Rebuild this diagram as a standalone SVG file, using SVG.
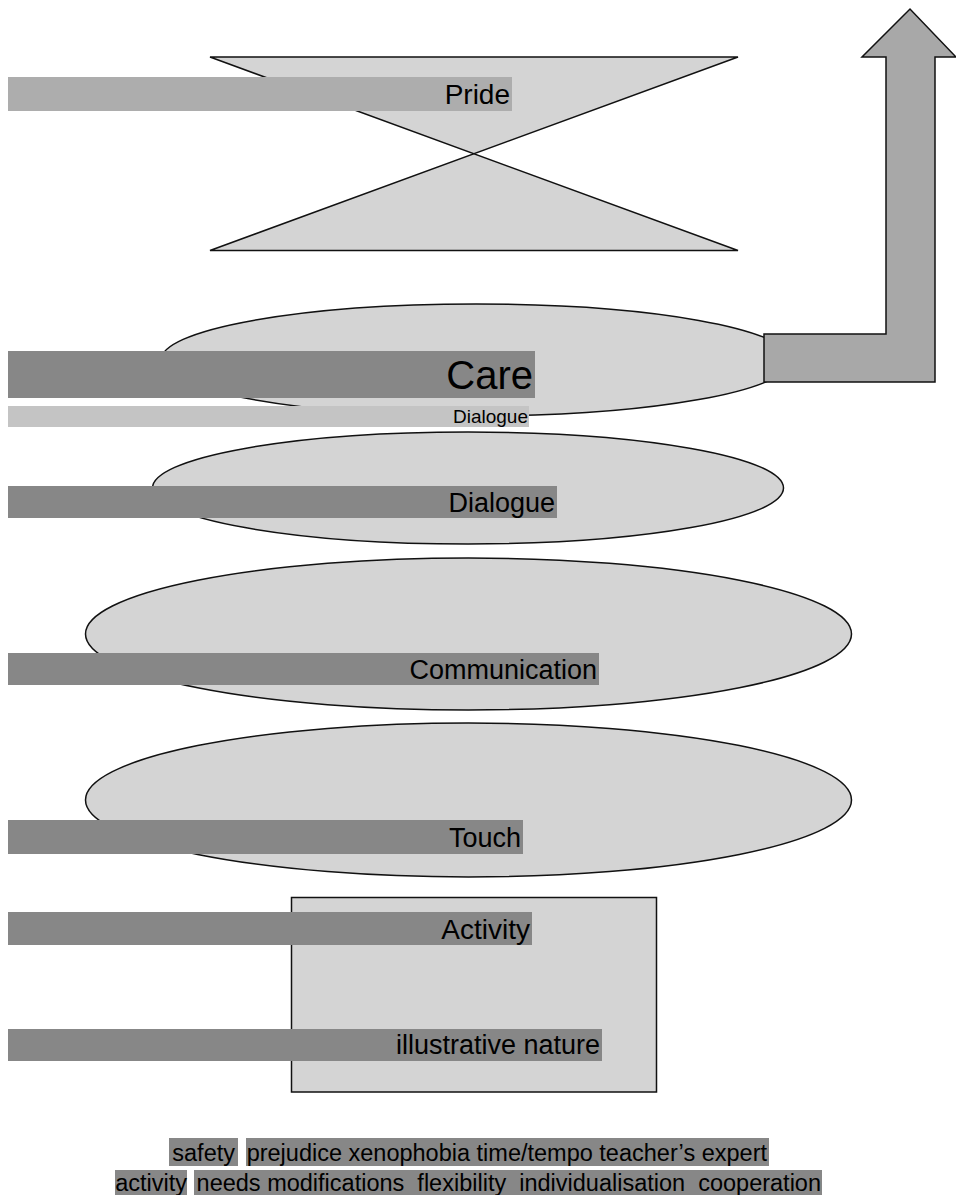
<svg xmlns="http://www.w3.org/2000/svg" width="956" height="1195" viewBox="0 0 956 1195">
<style>
.shape{fill:#d4d4d4;stroke:#111;stroke-width:1.5}
.bar{fill:#878787}
.lbl{font-family:"Liberation Sans",Arial,sans-serif;fill:#000;text-anchor:end}
</style>
<rect width="956" height="1195" fill="#fff"/>
<g id="pride">
<polygon class="shape" points="210,57 738,57 210,250.5 738,250.5"/>
<rect x="8" y="77" width="504" height="34" fill="#adadad"/>
<text class="lbl" x="510" y="104" font-size="28">Pride</text>
</g>
<g id="connectors">
<ellipse class="shape" cx="476" cy="360" rx="315" ry="56"/>
<path d="M764,334 L886,334 L886,57 L862,57 L910,9 L956,57 L935,57 L935,382 L764,382 Z" fill="#a8a8a8" stroke="#111" stroke-width="1.5"/>
</g>
<g id="care">
<rect class="bar" x="8" y="351" width="527" height="47"/>
<text class="lbl" x="533" y="389" font-size="40">Care</text>
</g>
<g id="dialogue-small">
<rect x="8" y="406" width="521" height="21" fill="#c4c4c4"/>
<text class="lbl" x="528" y="423" font-size="19">Dialogue</text>
</g>
<g id="dialogue">
<ellipse class="shape" cx="468" cy="488" rx="315.5" ry="56"/>
<rect class="bar" x="8" y="486" width="549" height="32"/>
<text class="lbl" x="555" y="512" font-size="27">Dialogue</text>
</g>
<g id="communication">
<ellipse class="shape" cx="468.5" cy="634" rx="383" ry="76"/>
<rect class="bar" x="8" y="653" width="591" height="32"/>
<text class="lbl" x="597" y="679" font-size="27">Communication</text>
</g>
<g id="touch">
<ellipse class="shape" cx="468.5" cy="800" rx="383" ry="77"/>
<rect class="bar" x="8" y="820" width="515" height="34"/>
<text class="lbl" x="521" y="847" font-size="27">Touch</text>
</g>
<g id="activity-box">
<rect class="shape" x="291.5" y="897.5" width="365" height="194.5"/>
</g>
<g id="activity">
<rect class="bar" x="8" y="912" width="524" height="33"/>
<text class="lbl" x="530" y="939" font-size="28">Activity</text>
</g>
<g id="illustrative">
<rect class="bar" x="8" y="1029" width="594" height="32"/>
<text class="lbl" x="600" y="1054" font-size="27">illustrative nature</text>
</g>
<g id="factors">
<rect class="bar" x="169" y="1138" width="69" height="28"/>
<rect class="bar" x="246" y="1138" width="523" height="28"/>
<rect class="bar" x="115" y="1170" width="72" height="25"/>
<rect class="bar" x="194" y="1170" width="628" height="25"/>
<text class="lbl" x="235" y="1161" font-size="23.5">safety</text>
<text class="lbl" x="767" y="1161" font-size="23.5">prejudice xenophobia time/tempo teacher’s expert</text>
<text class="lbl" x="187" y="1191" font-size="23.5">activity</text>
<text class="lbl" x="821" y="1191" font-size="23.5" xml:space="preserve">needs modifications  flexibility  individualisation  cooperation</text>
</g>
</svg>
